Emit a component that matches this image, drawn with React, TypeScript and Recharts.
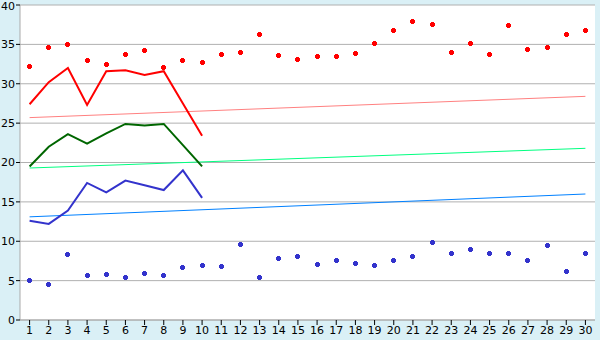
import * as React from "react";
import {
  ComposedChart,
  Line,
  XAxis,
  YAxis,
  CartesianGrid,
} from "recharts";

const days = Array.from({ length: 30 }, (_, i) => String(i + 1));

const redPoints = [
  32.2, 34.6, 35.0, 33.0, 32.5, 33.7, 34.2, 32.0, 33.0, 32.7,
  33.7, 34.0, 36.2, 33.6, 33.1, 33.5, 33.4, 33.9, 35.1, 36.8,
  37.9, 37.5, 34.0, 35.1, 33.7, 37.4, 34.4, 34.6, 36.3, 36.7,
];
const bluePoints = [
  5.0, 4.5, 8.3, 5.7, 5.8, 5.4, 5.9, 5.7, 6.7, 6.9,
  6.8, 9.6, 5.4, 7.8, 8.1, 7.1, 7.6, 7.2, 6.9, 7.5,
  8.1, 9.9, 8.5, 9.0, 8.5, 8.5, 7.6, 9.4, 6.1, 8.5,
];
const redLine = [27.4, 30.2, 32.0, 27.3, 31.6, 31.7, 31.1, 31.6, 27.5, 23.4];
const greenLine = [19.5, 22.0, 23.6, 22.4, 23.7, 24.9, 24.7, 24.9, 22.2, 19.5];
const blueLine = [12.6, 12.2, 13.9, 17.4, 16.2, 17.7, 17.1, 16.5, 19.0, 15.5];

const redTrend = [25.7, 28.4];
const greenTrend = [19.3, 21.8];
const blueTrend = [13.1, 16.0];

const yTicks = [0, 5, 10, 15, 20, 25, 30, 35, 40];

const data = days.map((d, i) => ({
  day: d,
  redPt: redPoints[i],
  bluePt: bluePoints[i],
  redLn: i < redLine.length ? redLine[i] : null,
  greenLn: i < greenLine.length ? greenLine[i] : null,
  blueLn: i < blueLine.length ? blueLine[i] : null,
  redTr: i === 0 ? redTrend[0] : i === days.length - 1 ? redTrend[1] : null,
  greenTr: i === 0 ? greenTrend[0] : i === days.length - 1 ? greenTrend[1] : null,
  blueTr: i === 0 ? blueTrend[0] : i === days.length - 1 ? blueTrend[1] : null,
}));

// small 5x5 cross-shaped marker
const makeMarker = (color: string) => (props: any) => {
  const { cx, cy, index } = props;
  if (cx == null || cy == null) return <g key={index} />;
  const x = Math.floor(cx);
  const y = Math.floor(cy);
  return (
    <path
      key={index}
      d={`M${x - 1},${y - 2}h3v1h1v3h-1v1h-3v-1h-1v-3h1z`}
      fill={color}
      stroke="none"
      shapeRendering="crispEdges"
    />
  );
};

const tickStyle = { fontFamily: "DejaVu Sans", fontSize: 11, fill: "#000" };

export default function App() {
  return (
    <div
      style={{
        position: "absolute",
        left: 0,
        top: 0,
        width: 600,
        height: 340,
        background: "#daf0f6",
      }}
    >
      <ComposedChart
        width={600}
        height={340}
        data={data}
        margin={{ top: 5, right: 5, left: 0, bottom: 0 }}
      >
        <CartesianGrid vertical={false} fill="#fff" stroke="#b0b0b0" />
        <XAxis
          dataKey="day"
          scale="band"
          height={20}
          interval={0}
          tickSize={5}
          axisLine={{ stroke: "#aaa" }}
          tickLine={{ stroke: "#000" }}
          tick={tickStyle}
          tickMargin={1}
        />
        <YAxis
          domain={[0, 40]}
          ticks={yTicks}
          width={20}
          tickSize={4}
          axisLine={{ stroke: "#aaa" }}
          tickLine={{ stroke: "#000" }}
          tick={tickStyle}
          tickMargin={1}
        />
        <YAxis
          yAxisId="r"
          orientation="right"
          width={0}
          tick={false}
          tickLine={false}
          axisLine={{ stroke: "#aaa" }}
        />
        <Line dataKey="redTr" stroke="#ff8080" strokeWidth={1} dot={false} connectNulls isAnimationActive={false} />
        <Line dataKey="greenTr" stroke="#00ff80" strokeWidth={1} dot={false} connectNulls isAnimationActive={false} />
        <Line dataKey="blueTr" stroke="#0080ff" strokeWidth={1} dot={false} connectNulls isAnimationActive={false} />
        <Line dataKey="redLn" stroke="#ff0000" strokeWidth={2} dot={false} isAnimationActive={false} />
        <Line dataKey="greenLn" stroke="#006600" strokeWidth={2} dot={false} isAnimationActive={false} />
        <Line dataKey="blueLn" stroke="#3333cc" strokeWidth={2} dot={false} isAnimationActive={false} />
        <Line dataKey="redPt" stroke="none" strokeWidth={0} dot={makeMarker("#ff0000")} activeDot={false} isAnimationActive={false} />
        <Line dataKey="bluePt" stroke="none" strokeWidth={0} dot={makeMarker("#3333cc")} activeDot={false} isAnimationActive={false} />
      </ComposedChart>
    </div>
  );
}
